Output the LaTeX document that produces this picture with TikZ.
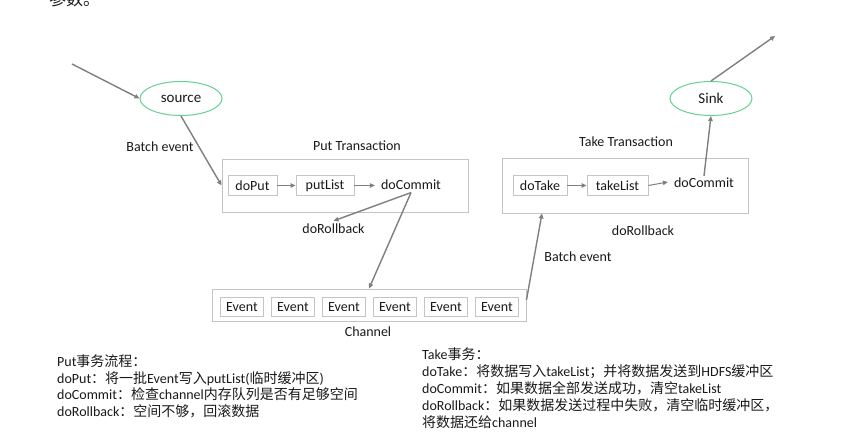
\documentclass[tikz,border=0pt]{standalone}
\usepackage{fontspec}
\setmainfont{Carlito}
\newfontfamily\cjk[Scale=1.0]{Noto Sans CJK SC}
\usetikzlibrary{arrows.meta,shapes.geometric}
\definecolor{linegray}{HTML}{7F7F7F}
\definecolor{boxgray}{HTML}{C4C4C4}
\definecolor{ellgreen}{HTML}{66D193}
\definecolor{txt}{HTML}{1A1A1A}
\begin{document}
\begin{tikzpicture}[x=1pt,y=-1pt,
  every node/.style={text=txt},
  lbl/.style={font=\fontsize{14}{16}\selectfont, inner sep=2pt},
  smallbox/.style={draw=boxgray, line width=0.9pt, minimum height=20pt, inner sep=0pt, font=\fontsize{14}{16}\selectfont},
  bigbox/.style={draw=boxgray, line width=0.9pt, inner sep=0pt},
  ell/.style={ellipse, draw=ellgreen, line width=1pt, fill=white, minimum width=82pt, minimum height=34pt, inner sep=0pt, font=\fontsize{15}{17}\selectfont},
  conn/.style={draw=linegray, line width=1.4pt, -{Triangle[length=5pt,width=4.5pt]}},
  note/.style={font=\fontsize{14}{16}\selectfont, inner sep=0pt, anchor=base west},
]
\useasboundingbox (0,0) rectangle (865,443);
\fill[white] (0,0) rectangle (865,443);

% cut-off heading
\node[anchor=base west, inner sep=0pt, font=\cjk\fontsize{17}{19}\selectfont] (head) at (49,6) {参数。};

% source side
\coordinate (in1) at (72,64);
\node[ell] (src) at (181,98.5) {source};
\node[lbl] (be1) at (160,147) {Batch event};

% put transaction
\node[bigbox, minimum width=246pt, minimum height=53pt] (pbox) at (345,185.5) {};
\node[lbl] (ptl) at (357,146) {Put Transaction};
\node[smallbox, minimum width=49pt] (dput) at (252.5,185.5) {doPut};
\node[smallbox, minimum width=58pt] (plist) at (325,185.5) {putList};
\node[lbl] (pc) at (411,184.5) {doCommit};
\node[lbl] (prb) at (333.5,229) {doRollback};

% channel
\node[bigbox, minimum width=314pt, minimum height=32pt] (chan) at (369,305) {};
\foreach \i/\x in {1/242,2/293,3/344,4/395,5/446,6/497}{
  \node[smallbox, minimum width=43pt, minimum height=19pt] (ev\i) at (\x,307) {Event};
}
\node[lbl] (chl) at (368,332) {Channel};

% take transaction
\node[bigbox, minimum width=246pt, minimum height=55pt] (tbox) at (625,185.5) {};
\node[lbl] (ttl) at (626,141.5) {Take Transaction};
\node[smallbox, minimum width=54pt] (dtake) at (540,185.5) {doTake};
\node[smallbox, minimum width=61pt] (tlist) at (617.5,185.5) {takeList};
\node[lbl] (tc) at (704,183) {doCommit};
\node[lbl] (trb) at (643,231) {doRollback};
\node[lbl] (be2) at (578,257) {Batch event};
\node[ell] (sink) at (711,98.5) {Sink};
\coordinate (out1) at (775,36);

% connectors
\draw[conn] (in1) -- (src.west);
\draw[conn] (src.south) -- (pbox.west);
\draw[conn, line width=1pt] (dput.east) -- (plist.west);
\draw[conn, line width=1pt] (plist.east) -- ([xshift=-4pt,yshift=-1pt]pc.west);
\draw[conn] ([yshift=-1pt]pc.south) -- ([yshift=1pt]prb.north);
\draw[conn] ([yshift=-1pt]pc.south) -- (chan.north);
\draw[conn] ([yshift=5pt]chan.east) -- ([xshift=-83pt]tbox.south);
\draw[conn, line width=1pt] (dtake.east) -- (tlist.west);
\draw[conn, line width=1pt] (tlist.east) -- ([xshift=-4pt,yshift=1pt]tc.west);
\draw[conn] (tc.north) -- (sink.south);
\draw[conn] (sink.north) -- (out1);

% notes left
\node[note] (l1) at (57,367) {Put{\cjk 事务流程：}};
\node[note] (l2) at (57,384) {doPut{\cjk ：将一批}Event{\cjk 写入}putList({\cjk 临时缓冲区})};
\node[note] (l3) at (57,400) {doCommit{\cjk ：检查}channel{\cjk 内存队列是否有足够空间}};
\node[note] (l4) at (57,417) {doRollback{\cjk ：空间不够，回滚数据}};

% notes right
\node[note] (r1) at (422,360) {Take{\cjk 事务：}};
\node[note] (r2) at (422,377) {doTake{\cjk ：将数据写入}takeList{\cjk ；并将数据发送到}HDFS{\cjk 缓冲区}};
\node[note] (r3) at (422,394) {doCommit{\cjk ：如果数据全部发送成功，清空}takeList};
\node[note] (r4) at (422,411) {doRollback{\cjk ：如果数据发送过程中失败，清空临时缓冲区，}};
\node[note] (r5) at (422,428) {{\cjk 将数据还给}channel};
\end{tikzpicture}
\end{document}
